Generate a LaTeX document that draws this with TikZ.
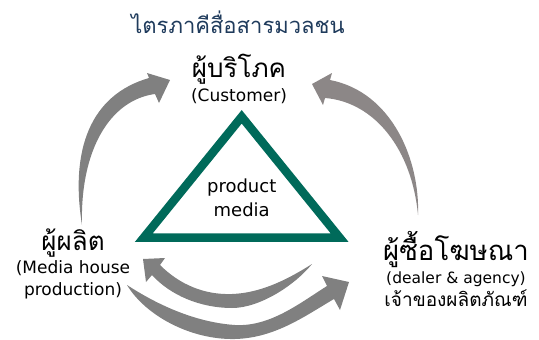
\documentclass[tikz,border=0pt]{standalone}
\usepackage{fontspec}
\setmainfont{DejaVu Sans}
\newfontfamily\thai[Script=Thai]{Loma}
\usepackage{tikz}
\usetikzlibrary{positioning}
\definecolor{titleblue}{HTML}{1F3B5C}
\definecolor{mediagreen}{HTML}{006A5A}
\definecolor{flowgray}{HTML}{808080}
\definecolor{flowgrayR}{HTML}{8C8787}
\tikzset{
	title/.style={font=\thai\fontsize{22}{24}\selectfont, text=titleblue, inner sep=0pt},
	party/.style={font=\thai\fontsize{26}{28}\selectfont, inner sep=0pt},
	partysub/.style={font=\thai\fontsize{19}{21}\selectfont, inner sep=0pt},
	eng/.style={font=\fontsize{17}{21.5}\selectfont, inner sep=0pt, align=center},
	mediatri/.style={draw=mediagreen, line width=8.5pt, line join=miter},
	flow/.style={fill=flowgray},
	flowR/.style={fill=flowgrayR},
}

\begin{document}
\begin{tikzpicture}[x=1pt, y=-1pt]
	\useasboundingbox (0,0) rectangle (539,340);
	\node[title] (title) at (238,22) {ไตรภาคีสื่อสารมวลชน};
	% the three parties
	\node[party] (customer) at (239,69) {ผู้บริโภค};
	\node[eng, below=4pt of customer] (customeren) {(Customer)};
	\node[party] (producer) at (73,243) {ผู้ผลิต};
	\node[eng, below=3pt of producer] (produceren) {(Media house\\production)};
	\node[party, font=\thai\fontsize{27.5}{29}\selectfont] (dealer) at (456,250) {ผู้ซื้อโฆษณา};
	\node[eng, font=\fontsize{15.5}{18}\selectfont, below=3pt of dealer] (dealeren) {(dealer \& agency)};
	\node[partysub, below=3pt of dealeren] (owner) {เจ้าของผลิตภัณฑ์};
	% triangle in the middle
	\coordinate (apex) at (241.7,116.8);
	\coordinate (baseL) at (143.9,237.5);
	\coordinate (baseR) at (339.5,237.5);
	\draw[mediatri] (apex) -- (baseL) -- (baseR) -- cycle;
	\node[eng, font=\fontsize{18}{24}\selectfont] (media) at (241.7,198) {product\\media};
	% producer -> customer
	\coordinate (tailL) at (82,225);
	\coordinate (tipL) at (170,80);
	\fill[flow] (tailL) .. controls (70,150) and (90,95) .. (149,78) -- (147,73) -- (tipL)
		-- (159,103) -- (155,94) .. controls (110,100) and (80,150) .. (tailL) -- cycle;
	% dealer -> customer
	\coordinate (tailR) at (418,215);
	\coordinate (tipR) at (312,84);
	\fill[flowR] (tailR) .. controls (420,160) and (392,92) .. (330,80) -- (332,73) -- (tipR)
		-- (323,105) -- (325,98) .. controls (375,102) and (412,150) .. (tailR) -- cycle;
	% dealer -> producer
	\coordinate (tailB) at (312,264);
	\coordinate (tipB) at (143,259);
	\fill[flow] (tailB) .. controls (290,278) and (262,293) .. (232,294)
		.. controls (205,295) and (180,285) .. (160,265) -- (165,258) -- (tipB)
		-- (146,282) -- (152,275) .. controls (170,295) and (200,308) .. (232,308)
		.. controls (260,308) and (295,285) .. (tailB) -- cycle;
	% producer -> dealer
	\coordinate (tailP) at (127,285);
	\coordinate (tipP) at (349,282);
	\fill[flow] (tailP) .. controls (150,300) and (190,322) .. (235,325)
		.. controls (270,327) and (300,303) .. (327,286) -- (322,276) -- (tipP)
		-- (340,310) -- (334,299) .. controls (305,316) and (275,338) .. (235,339)
		.. controls (190,340) and (145,315) .. (tailP) -- cycle;
\end{tikzpicture}
\end{document}
